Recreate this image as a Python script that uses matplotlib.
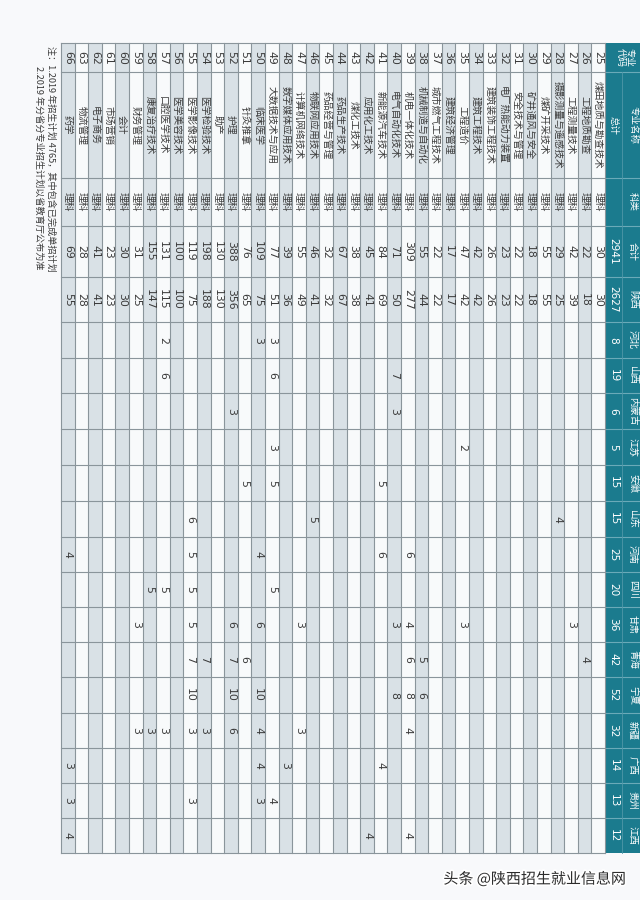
import matplotlib.pyplot as plt
from matplotlib.patches import Rectangle
import matplotlib.patheffects as pe

plt.rcParams["font.family"] = ["Noto Sans CJK SC", "DejaVu Sans"]

# ---- data ----
codes = [25, 26, 27, 28, 29, 30, 31, 32, 33, 34, 35, 36, 37, 38, 39, 40, 41, 42, 43, 44,
         45, 46, 47, 48, 49, 50, 51, 52, 53, 54, 55, 56, 57, 58, 59, 60, 61, 62, 63, 66]
majors = ["煤田地质与勘查技术", "工程地质勘查", "工程测量技术", "摄影测量与遥感技术", "煤矿开采技术",
          "矿井通风与安全", "安全技术与管理", "电厂热能动力装置", "建筑装饰工程技术", "建筑工程技术",
          "工程造价", "建筑经济管理", "城市燃气工程技术", "机械制造与自动化", "机电一体化技术",
          "电气自动化技术", "新能源汽车技术", "应用化工技术", "煤化工技术", "药品生产技术",
          "药品经营与管理", "物联网应用技术", "计算机网络技术", "数字媒体应用技术", "大数据技术与应用",
          "临床医学", "针灸推拿", "护理", "助产", "医学检验技术",
          "医学影像技术", "医学美容技术", "口腔医学技术", "康复治疗技术", "财务管理",
          "会计", "市场营销", "电子商务", "物流管理", "药学"]
subject = ["理科"] * len(codes)
row_total = [30, 22, 42, 29, 55, 18, 22, 23, 26, 42, 47, 17, 22, 55, 309, 71, 84, 45, 38, 67,
             32, 46, 55, 39, 77, 109, 76, 388, 130, 198, 119, 100, 131, 155, 31, 30, 23, 41, 28, 69]
shaanxi = [30, 18, 39, 25, 55, 18, 22, 23, 26, 42, 42, 17, 22, 44, 277, 50, 69, 41, 38, 67,
           32, 41, 49, 36, 51, 75, 65, 356, 130, 188, 75, 100, 115, 147, 25, 30, 23, 41, 28, 55]

provinces = ["河北", "山西", "内蒙古", "江苏", "安徽", "山东", "河南", "四川",
             "甘肃", "青海", "宁夏", "新疆", "广西", "贵州", "江西"]
province_totals = [8, 19, 6, 5, 15, 15, 25, 20, 36, 42, 52, 32, 14, 13, 12]
grand_total = 2941
shaanxi_total = 2627

# places per province: {major code: number}
province_quota = {
    "河北": {49: 3, 50: 3, 57: 2},
    "山西": {40: 7, 49: 6, 57: 6},
    "内蒙古": {40: 3, 52: 3},
    "江苏": {35: 2, 49: 3},
    "安徽": {41: 5, 49: 5, 51: 5},
    "山东": {28: 4, 46: 5, 55: 6},
    "河南": {39: 6, 41: 6, 50: 4, 55: 5, 66: 4},
    "四川": {49: 5, 55: 5, 57: 5, 58: 5},
    "甘肃": {27: 3, 35: 3, 39: 4, 40: 3, 47: 3, 50: 6, 52: 6, 55: 5, 59: 3},
    "青海": {26: 4, 38: 5, 39: 6, 51: 6, 52: 7, 54: 7, 55: 7},
    "宁夏": {38: 6, 39: 8, 40: 8, 50: 10, 52: 10, 55: 10},
    "新疆": {39: 4, 47: 3, 50: 4, 52: 6, 54: 3, 55: 3, 57: 3, 58: 3, 59: 3},
    "广西": {41: 4, 48: 3, 50: 4, 66: 3},
    "贵州": {49: 4, 50: 3, 55: 3, 66: 3},
    "江西": {39: 4, 42: 4, 66: 4},
}

notes = ["注：1.2019 年招生计划 4765，其中包含已完成单招计划",
         "2.2019 年分省分专业招生计划以省教育厅公布为准"]
watermark = "头条 @陕西招生就业信息网"

# ---- layout (pixel space, table is turned a quarter clockwise) ----
W, H = 640, 900
col_top = 43
col_widths = [29, 106, 48, 51, 45] + [36, 35, 36, 36, 36, 36, 35, 35, 35, 35, 36, 35, 35, 35, 35]
head_right = 642
head_split = 622
body_right = 605
body_left = 61
row_h = (body_right - body_left) / len(codes)

TEAL = "#1b7b8e"
GRID = "#8a959b"
SHADE = "#d9e1e6"
PLAIN = "#f8fafb"
TXT = "#3a3a3a"

col_edges = [col_top]
for w in col_widths:
    col_edges.append(col_edges[-1] + w)

fig = plt.figure(figsize=(6.4, 9), dpi=100)
fig.patch.set_facecolor("#f8f9fb")
ax = fig.add_axes([0, 0, 1, 1])
ax.set_xlim(0, W)
ax.set_ylim(H, 0)
ax.axis("off")


def cell_text(x, y, s, size=7.2, color=TXT, fam=None):
    kw = {}
    if fam:
        kw["family"] = fam
    ax.text(x, y, s, rotation=-90, ha="center", va="center", fontsize=size,
            color=color, **kw)


# header band
ax.add_patch(Rectangle((body_right, col_edges[0]), head_right - body_right,
                       col_edges[-1] - col_edges[0], facecolor=TEAL, edgecolor="none"))
for e in col_edges[1:-1]:
    ax.plot([body_right, head_right], [e, e], color="#6aaab8", lw=0.8)
ax.plot([head_split, head_split], [col_edges[1], col_edges[-1]], color="#4f97a8", lw=0.6)

head_labels = ["专业\n代码", "专业名称", "科类", "合计", "陕西"] + provinces
sum_labels = ["", "总计", "", str(grand_total), str(shaanxi_total)] + [str(v) for v in province_totals]
for j in range(len(col_widths)):
    yc = (col_edges[j] + col_edges[j + 1]) / 2
    if j == 0:
        ax.text((body_right + head_right) / 2 + 1, yc, head_labels[j], rotation=-90,
                ha="center", va="center", fontsize=6.8, color="white", linespacing=1.0)
        continue
    cell_text((head_split + head_right) / 2 + 0.5, yc, head_labels[j], size=6.8, color="white")
    if sum_labels[j]:
        is_num = sum_labels[j].isdigit()
        cell_text((body_right + head_split) / 2, yc, sum_labels[j],
                  size=7.6 if is_num else 6.8, color="white",
                  fam="DejaVu Sans" if is_num else None)

# body rows
for i, code in enumerate(codes):
    x1 = body_right - i * row_h
    x0 = x1 - row_h
    xc = (x0 + x1) / 2
    ax.add_patch(Rectangle((x0, col_edges[0]), row_h, col_edges[-1] - col_edges[0],
                           facecolor=SHADE if i % 2 else PLAIN, edgecolor="none"))
    values = [str(code), majors[i], subject[i], str(row_total[i]), str(shaanxi[i])]
    for p in provinces:
        v = province_quota[p].get(code)
        values.append(str(v) if v else "")
    for j, s in enumerate(values):
        if not s:
            continue
        yc = (col_edges[j] + col_edges[j + 1]) / 2
        if s.isdigit():
            cell_text(xc, yc, s, size=7.8, fam="DejaVu Sans")
        else:
            cell_text(xc, yc, s, size=7.0)

# grid
for i in range(len(codes) + 1):
    x = body_right - i * row_h
    ax.plot([x, x], [col_edges[0], col_edges[-1]], color=GRID, lw=0.8)
for e in col_edges:
    ax.plot([body_left, body_right], [e, e], color=GRID, lw=0.8)

# notes
ax.text(51, col_top + 3, notes[0], rotation=-90, ha="center", va="top",
        fontsize=6.6, color=TXT)
ax.text(39, col_top + 23, notes[1], rotation=-90, ha="center", va="top",
        fontsize=6.6, color=TXT)

# watermark
ax.text(626, 879, watermark, ha="right", va="center", fontsize=10.8, color="#2b2b2b",
        path_effects=[pe.withStroke(linewidth=2.5, foreground="white")])

fig.savefig("out.png", dpi=100, facecolor=fig.get_facecolor())
